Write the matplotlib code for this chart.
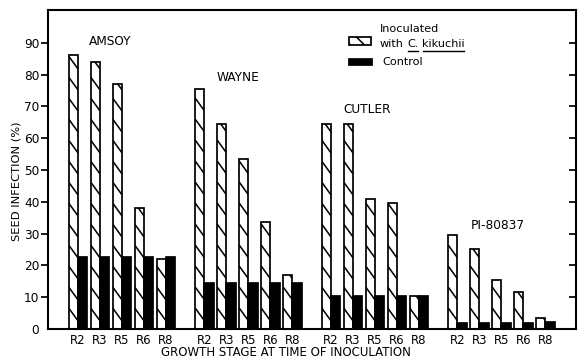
import numpy as np
import matplotlib.pyplot as plt
from matplotlib.patches import Rectangle

# seed infection (%)
stages = ["R2", "R3", "R5", "R6", "R8"]
cultivars = ["AMSOY", "WAYNE", "CUTLER", "PI-80837"]
inoculated = [
    [86, 84, 77, 38, 22],
    [75.5, 64.5, 53.5, 33.5, 17],
    [64.5, 64.5, 41, 39.5, 10.5],
    [29.5, 25, 15.5, 11.5, 3.5],
]
control = [
    [22.5, 22.5, 22.5, 22.5, 22.5],
    [14.5, 14.5, 14.5, 14.5, 14.5],
    [10.5, 10.5, 10.5, 10.5, 10.5],
    [1.8, 1.8, 1.8, 1.8, 2.3],
]
# where each cultivar name sits (data coords)
name_pos = [(1.45, 90.3), (7.27, 79.0), (13.15, 69.0), (19.1, 32.4)]

DPI = 125
plt.rcParams['hatch.linewidth'] = 0.9
plt.rcParams['font.family'] = 'DejaVu Sans'

fig = plt.figure(figsize=(584 / DPI, 362 / DPI), dpi=DPI)
ax = fig.add_axes([48 / 584, 1 - 329 / 362, 528 / 584, 319 / 362])

group_pitch = 5.75
w = 0.42
step = 6.6   # hatch spacing, y units
drop = 4.0   # hatch fall across one bar, y units
xs, xl = [], []
for g in range(len(cultivars)):
    x = g * group_pitch + np.arange(len(stages))
    bars = ax.bar(x - w / 2, inoculated[g], width=w, color='white', edgecolor='black',
                  linewidth=1.0)
    # sparse steep hatching, clipped to each bar
    for b in bars:
        x0, x1, h = b.get_x(), b.get_x() + b.get_width(), b.get_height()
        for c in np.arange(-drop, h + step, step):
            ln, = ax.plot([x0, x1], [c + drop, c], color='black', lw=0.9,
                          solid_capstyle='butt')
            ln.set_clip_path(b)
    ax.bar(x + w / 2, control[g], width=w, color='black', edgecolor='black',
           linewidth=1.0)
    xs.extend(x)
    xl.extend(stages)
    ax.text(name_pos[g][0], name_pos[g][1], cultivars[g], ha='center', va='center',
            fontsize=7)

ax.set_xlim(-1.36, 22.64)
ax.set_ylim(0, 100.3)
ax.set_xticks(xs)
ax.set_xticklabels(xl, fontsize=6.8)
ax.tick_params(axis='x', length=0, pad=3)
ax.set_yticks(np.arange(0, 100, 10))
ax.set_yticklabels(['0'] + [str(v) for v in range(10, 100, 10)], fontsize=7)
ax.tick_params(axis='y', length=4, width=1.0, pad=1.0, right=True)
ax.yaxis.get_major_ticks()[0].tick1line.set_visible(False)
ax.yaxis.get_major_ticks()[0].tick2line.set_visible(False)
for t in ax.yaxis.get_major_ticks():
    t.tick2line.set_marker(0)  # inward on right side
for s in ax.spines.values():
    s.set_linewidth(1.2)

fig.text(17 / 584, 1 - 181 / 362, "SEED INFECTION (%)", rotation=90, ha='center',
         va='center', fontsize=6.6)
fig.text(286 / 584, 1 - 353 / 362, "GROWTH STAGE AT TIME OF INOCULATION", ha='center',
         va='center', fontsize=6.8)

# legend drawn by hand (underlined species name)
tr = fig.transFigure
def fx(px):
    return px / 584
def fy(py):
    return 1 - py / 362
fig.patches.append(Rectangle((fx(349), fy(45)), fx(22), 8 / 362, transform=tr,
                             facecolor='white', edgecolor='black', hatch='\\\\\\', lw=1.0))
fig.patches.append(Rectangle((fx(349), fy(65)), fx(23), 6 / 362, transform=tr,
                             facecolor='black', edgecolor='black', lw=1.0))
fig.text(fx(380), fy(29), "Inoculated", fontsize=6.5, va='center')
fig.text(fx(382), fy(62), "Control", fontsize=6.5, va='center')

r = fig.canvas.get_renderer()
x0 = fx(380)
for word, ul in [("with", False), ("C.", True), ("kikuchii", True)]:
    t = fig.text(x0, fy(44), word, fontsize=6.5, va='center')
    bb = t.get_window_extent(r).transformed(tr.inverted())
    if ul:
        fig.add_artist(plt.Line2D([bb.x0 + fx(0.5), bb.x1 - fx(1)], [fy(51), fy(51)],
                                  color='black', lw=0.8))
    x0 = bb.x1 + fx(3.5)

fig.savefig("out.png", dpi=DPI)
